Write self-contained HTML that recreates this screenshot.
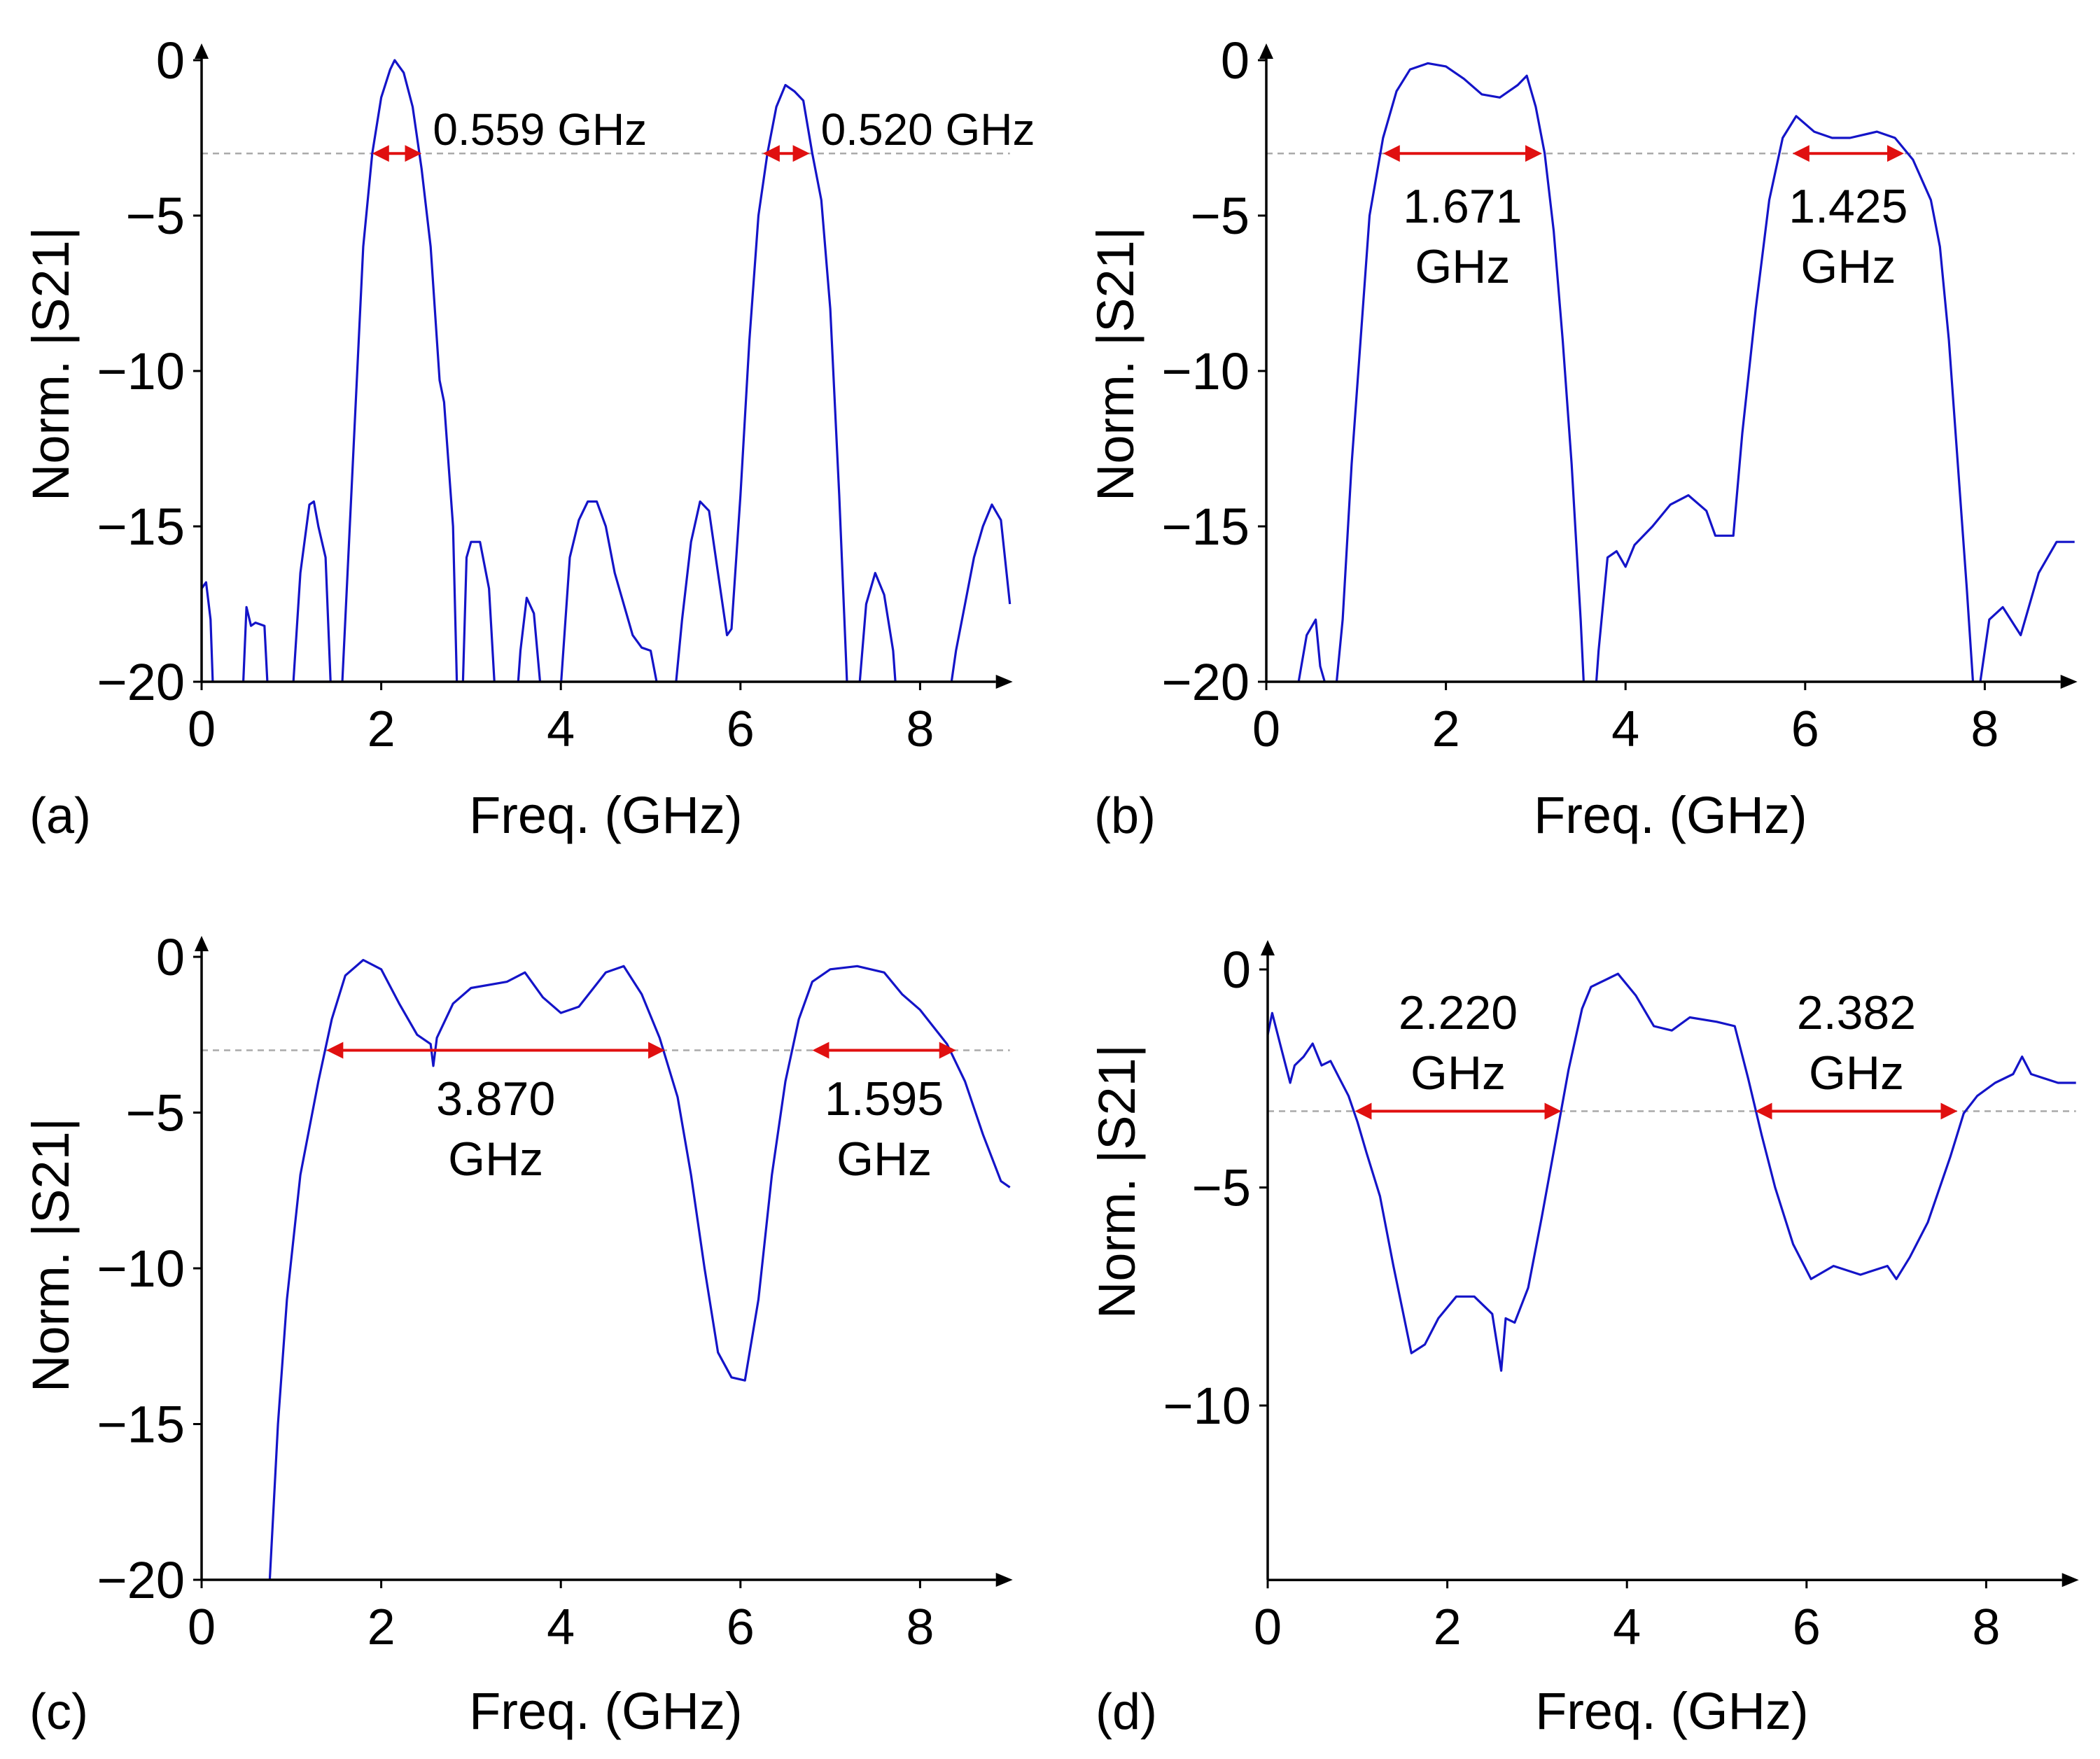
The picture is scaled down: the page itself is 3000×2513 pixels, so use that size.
<!DOCTYPE html>
<html><head><meta charset="utf-8"><style>
html,body{margin:0;padding:0;background:#fff;}
svg{display:block;font-family:"Liberation Sans",Arial,sans-serif;}
</style></head><body>
<svg id="fig" width="3000" height="2513" viewBox="0 0 3000 2513" xmlns="http://www.w3.org/2000/svg">
<defs>
<marker id="ra" markerWidth="6" markerHeight="6" refX="5" refY="3" orient="auto" markerUnits="strokeWidth"><path d="M0,0 L6,3 L0,6 Z" fill="#e01010"/></marker>
<marker id="rb" markerWidth="6" markerHeight="6" refX="1" refY="3" orient="auto" markerUnits="strokeWidth"><path d="M6,0 L0,3 L6,6 Z" fill="#e01010"/></marker>
</defs>
</svg>
<script>
// ---- data ----
const freqA=[0,0.05,0.1,0.13,0.45,0.5,0.55,0.6,0.7,0.75,1.0,1.1,1.2,1.25,1.3,1.38,1.45,1.55,1.6,1.7,1.8,1.9,2.0,2.1,2.15,2.25,2.35,2.45,2.55,2.65,2.7,2.8,2.85,2.9,2.95,3.0,3.1,3.2,3.28,3.5,3.55,3.62,3.7,3.8,3.98,4.1,4.2,4.3,4.4,4.5,4.6,4.8,4.9,5.0,5.1,5.25,5.35,5.45,5.55,5.65,5.75,5.85,5.9,6.0,6.1,6.2,6.3,6.4,6.5,6.6,6.7,6.8,6.9,7.0,7.1,7.2,7.3,7.4,7.5,7.6,7.7,7.75,8.3,8.4,8.5,8.6,8.7,8.8,8.9,9.0];
const s21A=[-17,-16.8,-18,-20.5,-21,-17.6,-18.2,-18.1,-18.2,-21,-21,-16.5,-14.3,-14.2,-15,-16,-21,-21,-18,-12,-6,-3,-1.2,-0.3,0,-0.4,-1.5,-3.5,-6,-10.3,-11,-15,-21,-21,-16,-15.5,-15.5,-17,-21,-21,-19,-17.3,-17.8,-21,-21,-16,-14.8,-14.2,-14.2,-15,-16.5,-18.5,-18.9,-19,-20.5,-21,-18,-15.5,-14.2,-14.5,-16.5,-18.5,-18.3,-14,-9,-5,-3,-1.5,-0.8,-1,-1.3,-3,-4.5,-8,-14,-21,-21,-17.5,-16.5,-17.2,-19,-21,-21,-19,-17.5,-16,-15,-14.3,-14.8,-17.5];
const freqB=[0.3,0.45,0.55,0.6,0.7,0.75,0.85,0.95,1.05,1.15,1.3,1.45,1.6,1.8,2.0,2.2,2.4,2.6,2.8,2.9,3.0,3.1,3.2,3.3,3.4,3.5,3.55,3.65,3.7,3.8,3.9,4.0,4.1,4.3,4.5,4.7,4.9,5.0,5.2,5.3,5.45,5.6,5.75,5.9,6.1,6.3,6.5,6.8,7.0,7.2,7.4,7.5,7.6,7.7,7.8,7.88,7.95,8.05,8.2,8.4,8.6,8.8,9.0];
const s21B=[-21,-18.5,-18,-19.5,-20.5,-21,-18,-13,-9,-5,-2.5,-1,-0.3,-0.1,-0.2,-0.6,-1.1,-1.2,-0.8,-0.5,-1.5,-3,-5.5,-9,-13,-18,-21,-21,-19,-16,-15.8,-16.3,-15.6,-15,-14.3,-14,-14.5,-15.3,-15.3,-12,-8,-4.5,-2.5,-1.8,-2.3,-2.5,-2.5,-2.3,-2.5,-3.2,-4.5,-6,-9,-13,-17,-20.5,-20,-18,-17.6,-18.5,-16.5,-15.5,-15.5];
const freqC=[0.75,0.85,0.95,1.1,1.3,1.45,1.6,1.8,2.0,2.2,2.4,2.55,2.58,2.62,2.8,3.0,3.4,3.6,3.8,4.0,4.2,4.5,4.7,4.9,5.1,5.3,5.45,5.6,5.75,5.9,6.05,6.2,6.35,6.5,6.65,6.8,7.0,7.3,7.6,7.8,8.0,8.3,8.5,8.7,8.9,9.0];
const s21C=[-20.5,-15,-11,-7,-4,-2,-0.6,-0.1,-0.4,-1.5,-2.5,-2.8,-3.5,-2.6,-1.5,-1.0,-0.8,-0.5,-1.3,-1.8,-1.6,-0.5,-0.3,-1.2,-2.6,-4.5,-7,-10,-12.7,-13.5,-13.6,-11,-7,-4,-2,-0.8,-0.4,-0.3,-0.5,-1.2,-1.7,-2.8,-4,-5.7,-7.2,-7.4];
const freqD=[0,0.05,0.15,0.25,0.3,0.4,0.5,0.6,0.7,0.8,0.9,1.0,1.1,1.25,1.4,1.5,1.6,1.75,1.9,2.1,2.3,2.5,2.6,2.65,2.75,2.9,3.05,3.2,3.35,3.5,3.6,3.8,3.9,4.1,4.3,4.5,4.7,5.0,5.2,5.35,5.5,5.65,5.85,6.05,6.3,6.6,6.9,7.0,7.15,7.35,7.6,7.75,7.9,8.1,8.3,8.4,8.5,8.8,9.0];
const s21D=[-1.5,-1,-1.8,-2.6,-2.2,-2,-1.7,-2.2,-2.1,-2.5,-2.9,-3.5,-4.2,-5.2,-6.8,-7.8,-8.8,-8.6,-8.0,-7.5,-7.5,-7.9,-9.2,-8.0,-8.1,-7.3,-5.7,-4.0,-2.3,-0.9,-0.4,-0.2,-0.1,-0.6,-1.3,-1.4,-1.1,-1.2,-1.3,-2.5,-3.8,-5.0,-6.3,-7.1,-6.8,-7.0,-6.8,-7.1,-6.6,-5.8,-4.3,-3.3,-2.9,-2.6,-2.4,-2.0,-2.4,-2.6,-2.6];
const xTicks=[0,2,4,6,8];
const yTicksABC=[0,-5,-10,-15,-20];
const yTicksD=[0,-5,-10];
const bwA=[[1.9,2.45,'0.559 GHz'],[6.25,6.77,'0.520 GHz']];
const bwB=[[1.3,3.07,'1.671','GHz'],[5.86,7.1,'1.425','GHz']];
const bwC=[[1.39,5.16,'3.870','GHz'],[6.8,8.4,'1.595','GHz']];
const bwD=[[0.97,3.27,'2.220','GHz'],[5.43,7.68,'2.382','GHz']];

const NS='http://www.w3.org/2000/svg';
const svg=document.getElementById('fig');
function mk(tag,attrs,parent){const e=document.createElementNS(NS,tag);for(const k in attrs)e.setAttribute(k,attrs[k]);(parent||svg).appendChild(e);return e;}

function panel(o){
  const g=mk('g',{});
  
  
  const X=f=>o.x0+f*o.kx, Y=d=>o.y0-d*o.ky;
  const yb=Y(o.ymin);
  const cid='clip'+o.id;
  const cp=mk('clipPath',{id:cid},g);
  mk('rect',{x:o.x0,y:Y(0.8),width:X(9.02)-o.x0,height:yb-Y(0.8)},cp);
  const dl=mk('line',{x1:o.x0,x2:X(9),y1:Y(o.dash),y2:Y(o.dash),stroke:'#aaa','stroke-width':2.5,'stroke-dasharray':'9 7'},g);
  
  
  let d='';
  o.fx.forEach((f,i)=>{d+=(i?'L':'M')+X(f).toFixed(1)+','+Y(o.fy[i]).toFixed(1);});
  const c=mk('path',{d:d,fill:'none',stroke:'#1414c8','stroke-width':3.2,'stroke-linejoin':'round','clip-path':'url(#'+cid+')'},g);
  
  
  const xe=X(9)-20;
  const xa=mk('line',{x1:o.x0,x2:xe,y1:yb,y2:yb,stroke:'#000','stroke-width':3.5},g);
  
  
  mk('path',{d:`M${xe},${yb-10} L${xe+24},${yb} L${xe},${yb+10}Z`,fill:'#000'},g);
  const yTop=o.y0-o.top;
  const ya=mk('line',{x1:o.x0,x2:o.x0,y1:yb,y2:yTop+22,stroke:'#000','stroke-width':3.5},g);
  
  
  mk('path',{d:`M${o.x0-10},${yTop+22} L${o.x0},${yTop} L${o.x0+10},${yTop+22}Z`,fill:'#000'},g);
  xTicks.forEach(t=>{
    mk('line',{x1:X(t),x2:X(t),y1:yb,y2:yb+12,stroke:'#000','stroke-width':3},g);
    const tx=mk('text',{x:X(t),y:yb+92,'font-size':72,'text-anchor':'middle'},g);
    tx.textContent=t;
    
    
  });
  o.yt.forEach(t=>{
    mk('line',{x1:o.x0-12,x2:o.x0,y1:Y(t),y2:Y(t),stroke:'#000','stroke-width':3},g);
    const tx=mk('text',{x:o.x0-24,y:Y(t)+26,'font-size':74,'text-anchor':'end'},g);
    tx.textContent=t===0?'0':'\u2212'+Math.abs(t);
    
    
  });
  const xt=mk('text',{x:X(4.5),y:o.labY,'font-size':74,'text-anchor':'middle'},g);
  xt.textContent='Freq. (GHz)';
  
  
  const pl=mk('text',{x:o.x0-246,y:o.labY,'font-size':72},g);
  pl.textContent='('+o.id+')';
  
  
  const yt=mk('text',{x:0,y:0,'font-size':74,'text-anchor':'middle',transform:`translate(${o.x0-190},${o.ytY}) rotate(-90)`},g);
  yt.textContent='Norm. |S21|';
  
  
  o.bw.forEach(b=>{
    const a=mk('line',{x1:X(b[0])+4,x2:X(b[1])-4,y1:Y(o.dash),y2:Y(o.dash),stroke:'#e01010','stroke-width':4,'marker-end':'url(#ra)','marker-start':'url(#rb)'},g);
    
    
    if(b.length===3){
      const t=mk('text',{x:X(b[1])+16,y:Y(o.dash)-12,'font-size':64},g);
      t.textContent=b[2];
      
      
    } else {
      const cx=(X(b[0])+X(b[1]))/2;
      const t1=mk('text',{x:cx,y:o.t1y,'font-size':68,'text-anchor':'middle'},g);
      t1.textContent=b[2];
      
      
      const t2=mk('text',{x:cx,y:o.t1y+86,'font-size':68,'text-anchor':'middle'},g);
      t2.textContent=b[3];
      
      
    }
  });
}
const KX=128.3;
panel({id:'a',x0:288,y0:86,kx:KX,ky:44.4,ymin:-20,yt:yTicksABC,dash:-3,fx:freqA,fy:s21A,bw:bwA,labY:1190,ytY:520,top:24});
panel({id:'b',x0:1809,y0:86,kx:KX,ky:44.4,ymin:-20,yt:yTicksABC,dash:-3,fx:freqB,fy:s21B,bw:bwB,labY:1190,ytY:520,t1y:318,top:24});
panel({id:'c',x0:288,y0:1367,kx:KX,ky:44.5,ymin:-20,yt:yTicksABC,dash:-3,fx:freqC,fy:s21C,bw:bwC,labY:2470,ytY:1793,t1y:1593,top:30});
panel({id:'d',x0:1811,y0:1385,kx:KX,ky:62.3,ymin:-14,yt:yTicksD,dash:-3.25,fx:freqD,fy:s21D,bw:bwD,labY:2470,ytY:1688,t1y:1470,top:42});
</script>
</body></html>
